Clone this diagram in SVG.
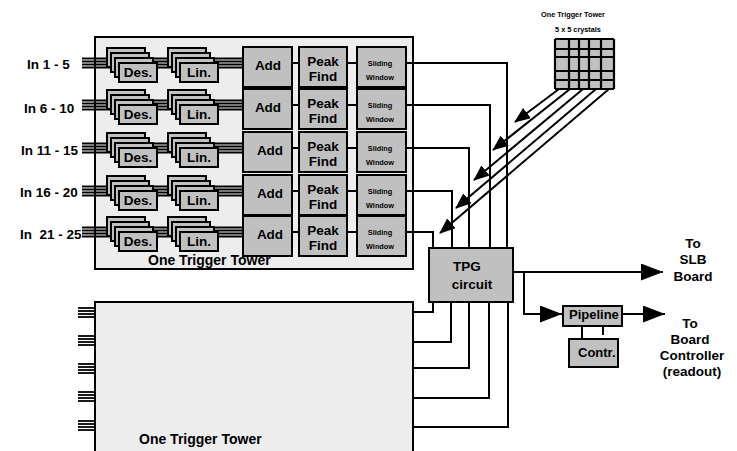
<svg xmlns="http://www.w3.org/2000/svg" xmlns:xlink="http://www.w3.org/1999/xlink" width="737" height="451" viewBox="0 0 737 451">
<style>
.box{fill:#c0c0c0;stroke:#000;stroke-width:2}
.panel{fill:#ededed;stroke:#000;stroke-width:2}
.ln{stroke:#000;stroke-width:2;fill:none}
.bus{stroke:#000;stroke-width:1.8;fill:none}
.t{font-family:"Liberation Sans",Arial,sans-serif;font-weight:bold;fill:#000}
.m{font-size:13.5px;text-anchor:middle}
.s{font-size:7.3px;text-anchor:middle}
.lbl{font-size:13.5px}
</style>
<defs>
<marker id="ah" markerUnits="userSpaceOnUse" markerWidth="16" markerHeight="13" refX="15" refY="6.5" orient="auto"><path d="M0,0 L16,6.5 L0,13 z" fill="#000"/></marker>
<marker id="big" markerUnits="userSpaceOnUse" markerWidth="23" markerHeight="17" refX="22" refY="8.5" orient="auto"><path d="M0,0 L22,8.5 L0,17 z" fill="#000"/></marker>
<g id="stack"><rect class="box" x="0" y="0" width="38" height="19"/><rect class="box" x="4" y="5" width="38" height="19"/><rect class="box" x="8" y="10" width="38" height="19"/><rect class="box" x="12" y="15" width="38" height="19"/></g>
<g id="bus"><line class="bus" x1="82" y1="58.5" x2="243" y2="58.5"/><line class="bus" x1="82" y1="61.5" x2="243" y2="61.5"/><line class="bus" x1="82" y1="64.5" x2="243" y2="64.5"/><line class="bus" x1="82" y1="67.5" x2="243" y2="67.5"/></g>
<g id="stub"><line class="bus" x1="78" y1="0" x2="95" y2="0"/><line class="bus" x1="78" y1="3" x2="95" y2="3"/><line class="bus" x1="78" y1="6" x2="95" y2="6"/><line class="bus" x1="78" y1="9" x2="95" y2="9"/></g>
</defs>

<g id="tower-top">
<rect class="panel" x="95" y="37" width="318" height="232"/>
<text class="t" x="148" y="265" font-size="14">One Trigger Tower</text>
</g>

<g id="tower-bottom">
<rect class="panel" x="95" y="302" width="318" height="160"/>
<use xlink:href="#stub" y="308"/><use xlink:href="#stub" y="336"/><use xlink:href="#stub" y="364"/><use xlink:href="#stub" y="392"/><use xlink:href="#stub" y="421"/>
<text class="t" x="139" y="444" font-size="14">One Trigger Tower</text>
</g>

<g id="labels">
<text class="t lbl" x="27" y="69">In 1 - 5</text>
<text class="t lbl" x="24" y="113">In 6 - 10</text>
<text class="t lbl" x="21" y="155">In 11 - 15</text>
<text class="t lbl" x="20" y="197">In 16 - 20</text>
<text class="t lbl" x="20" y="239" xml:space="preserve">In  21 - 25</text>
</g>

<g id="inputs">
<use xlink:href="#bus"/><use xlink:href="#bus" y="42"/><use xlink:href="#bus" y="85"/><use xlink:href="#bus" y="128"/><use xlink:href="#bus" y="169"/>
</g>

<g id="connectors">
<g id="row-links">
<path class="ln" d="M292,63H299M347,63H357"/>
<path class="ln" d="M292,105H299M347,105H357"/>
<path class="ln" d="M292,148H299M347,148H357"/>
<path class="ln" d="M292,191H299M347,191H357"/>
<path class="ln" d="M292,232H299M347,232H357"/>
</g>
<path class="ln" d="M406,63H507V248"/>
<path class="ln" d="M406,105H490V248"/>
<path class="ln" d="M406,148H469V248"/>
<path class="ln" d="M406,191H452V248"/>
<path class="ln" d="M406,232H433V248"/>
<path class="ln" d="M433,302V312H413"/>
<path class="ln" d="M451,302V342H413"/>
<path class="ln" d="M469,302V368H413"/>
<path class="ln" d="M489,302V398H413"/>
<path class="ln" d="M508,302V427H413"/>
<line class="ln" x1="559" y1="89" x2="515" y2="122" marker-end="url(#ah)"/>
<line class="ln" x1="570" y1="89" x2="493" y2="150" marker-end="url(#ah)"/>
<line class="ln" x1="583" y1="89" x2="474" y2="180" marker-end="url(#ah)"/>
<line class="ln" x1="596" y1="89" x2="456" y2="208" marker-end="url(#ah)"/>
<line class="ln" x1="609" y1="89" x2="440" y2="233" marker-end="url(#ah)"/>
<line class="ln" x1="513" y1="272" x2="663" y2="272" marker-end="url(#big)"/>
<path class="ln" d="M524,272V314H562" marker-end="url(#big)"/>
<line class="ln" x1="622" y1="314" x2="665" y2="314" marker-end="url(#big)"/>
<line class="ln" x1="582" y1="326" x2="582" y2="339"/>
<line class="ln" x1="603" y1="326" x2="603" y2="335"/>
</g>

<g id="row1">
<g id="des1"><use xlink:href="#stack" x="107" y="48"/><text class="t m" x="138" y="77" font-size="13">Des.</text></g>
<g id="lin1"><use xlink:href="#stack" x="168" y="48"/><text class="t m" x="199" y="77">Lin.</text></g>
<g id="add1"><rect class="box" x="243" y="47" width="49" height="40"/><text class="t m" x="268" y="70">Add</text></g>
<g id="peak1"><rect class="box" x="299" y="47" width="48" height="40"/><text class="t m" x="323" y="66">Peak</text><text class="t m" x="323" y="81">Find</text></g>
<g id="slide1"><rect class="box" x="357" y="47" width="49" height="40"/><text class="t s" x="380" y="66">Sliding</text><text class="t s" x="380" y="80">Window</text></g>
</g>
<g id="row2" transform="translate(0,42)">
<g id="des2"><use xlink:href="#stack" x="107" y="48"/><text class="t m" x="138" y="77" font-size="13">Des.</text></g>
<g id="lin2"><use xlink:href="#stack" x="168" y="48"/><text class="t m" x="199" y="77">Lin.</text></g>
<g id="add2"><rect class="box" x="243" y="47" width="49" height="40"/><text class="t m" x="268" y="70">Add</text></g>
<g id="peak2"><rect class="box" x="299" y="47" width="48" height="40"/><text class="t m" x="323" y="66">Peak</text><text class="t m" x="323" y="81">Find</text></g>
<g id="slide2"><rect class="box" x="357" y="47" width="49" height="40"/><text class="t s" x="380" y="66">Sliding</text><text class="t s" x="380" y="80">Window</text></g>
</g>
<g id="row3" transform="translate(0,85)">
<g id="des3"><use xlink:href="#stack" x="107" y="48"/><text class="t m" x="138" y="77" font-size="13">Des.</text></g>
<g id="lin3"><use xlink:href="#stack" x="168" y="48"/><text class="t m" x="199" y="77">Lin.</text></g>
<g id="add3"><rect class="box" x="243" y="47" width="49" height="40"/><text class="t m" x="270" y="70">Add</text></g>
<g id="peak3"><rect class="box" x="299" y="47" width="48" height="40"/><text class="t m" x="323" y="66">Peak</text><text class="t m" x="323" y="81">Find</text></g>
<g id="slide3"><rect class="box" x="357" y="47" width="49" height="40"/><text class="t s" x="380" y="66">Sliding</text><text class="t s" x="380" y="80">Window</text></g>
</g>
<g id="row4" transform="translate(0,128)">
<g id="des4"><use xlink:href="#stack" x="107" y="48"/><text class="t m" x="138" y="77" font-size="13">Des.</text></g>
<g id="lin4"><use xlink:href="#stack" x="168" y="48"/><text class="t m" x="199" y="77">Lin.</text></g>
<g id="add4"><rect class="box" x="243" y="47" width="49" height="40"/><text class="t m" x="270" y="70">Add</text></g>
<g id="peak4"><rect class="box" x="299" y="47" width="48" height="40"/><text class="t m" x="323" y="66">Peak</text><text class="t m" x="323" y="81">Find</text></g>
<g id="slide4"><rect class="box" x="357" y="47" width="49" height="40"/><text class="t s" x="380" y="66">Sliding</text><text class="t s" x="380" y="80">Window</text></g>
</g>
<g id="row5" transform="translate(0,169)">
<g id="des5"><use xlink:href="#stack" x="107" y="48"/><text class="t m" x="138" y="77" font-size="13">Des.</text></g>
<g id="lin5"><use xlink:href="#stack" x="168" y="48"/><text class="t m" x="199" y="77">Lin.</text></g>
<g id="add5"><rect class="box" x="243" y="47" width="49" height="40"/><text class="t m" x="270" y="70">Add</text></g>
<g id="peak5"><rect class="box" x="299" y="47" width="48" height="40"/><text class="t m" x="323" y="66">Peak</text><text class="t m" x="323" y="81">Find</text></g>
<g id="slide5"><rect class="box" x="357" y="47" width="49" height="40"/><text class="t s" x="380" y="66">Sliding</text><text class="t s" x="380" y="80">Window</text></g>
</g>

<g id="crystals">
<text class="t s" x="573" y="17">One Trigger Tower</text>
<text class="t s" x="578" y="32" font-size="7.5">5 x 5 crystals</text>
<rect x="555" y="39" width="59" height="50" fill="#c0c0c0"/>
<path d="M555,39V89M569,39V89M579,39V89M589,39V89M601,39V89M614,39V89M555,39H614M555,49H614M555,57H614M555,71H614M555,80H614M555,89H614" stroke="#000" stroke-width="2.2" fill="none"/>
</g>

<g id="tpg">
<rect class="box" x="429" y="248" width="84" height="54"/>
<text class="t m" x="467" y="271">TPG</text>
<text class="t m" x="472" y="289">circuit</text>
</g>

<g id="slb-label">
<text class="t m" x="693" y="248" font-size="14">To</text>
<text class="t m" x="693" y="264" font-size="14">SLB</text>
<text class="t m" x="693" y="281" font-size="14">Board</text>
</g>

<g id="pipeline">
<rect class="box" x="563" y="306" width="59" height="20"/>
<text class="t" x="569" y="319" font-size="13">Pipeline</text>
</g>

<g id="contr">
<rect class="box" x="569" y="339" width="49" height="28"/>
<text class="t" x="578" y="357" font-size="13">Contr.</text>
</g>

<g id="board-label">
<text class="t m" x="690" y="328" font-size="13.5">To</text>
<text class="t m" x="690" y="344" font-size="13.5">Board</text>
<text class="t m" x="692" y="360" font-size="13.5">Controller</text>
<text class="t m" x="692" y="376" font-size="13.5">(readout)</text>
</g>
</svg>
